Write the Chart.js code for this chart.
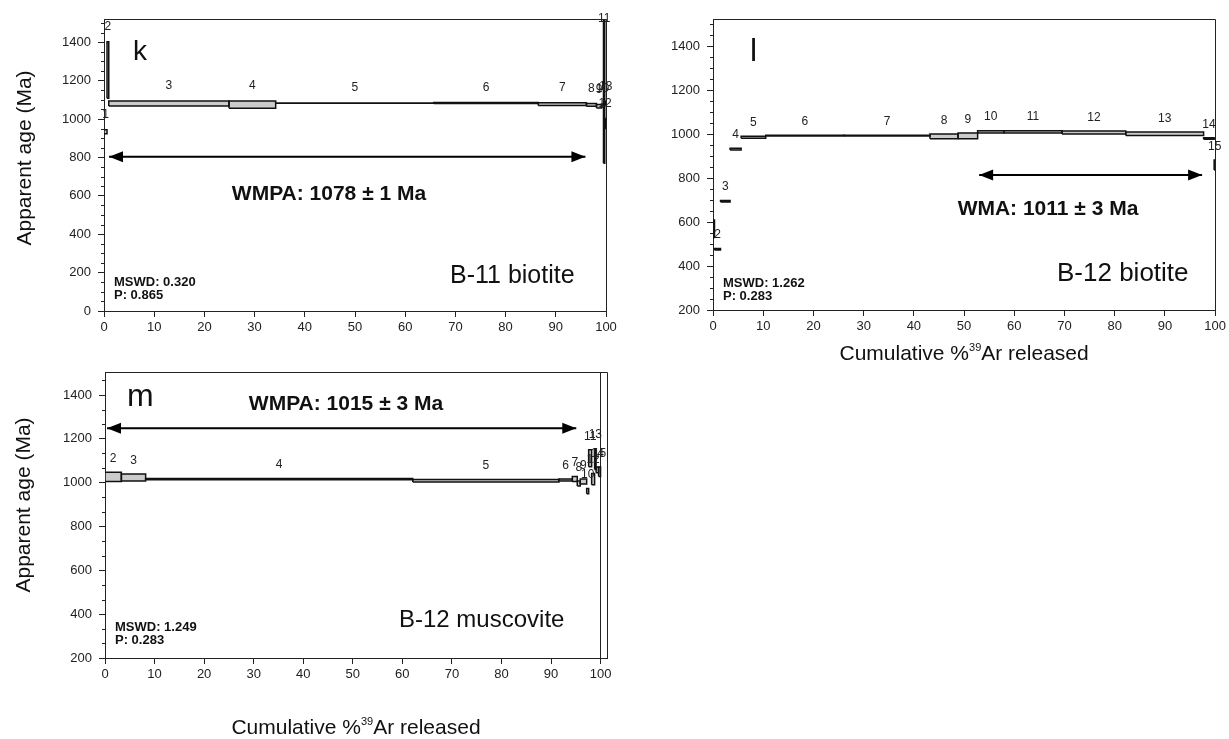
<!DOCTYPE html>
<html>
<head>
<meta charset="utf-8">
<script src="https://cdn.jsdelivr.net/npm/chart.js@4.4.0/dist/chart.umd.min.js"></script>
<style>
  html, body { margin: 0; padding: 0; background: #fff; }
  body { width: 1229px; height: 739px; position: relative; overflow: hidden; }
  canvas { position: absolute; }
</style>
</head>
<body>
<canvas id="chartK" width="640" height="345" style="left:0;top:0"></canvas>
<canvas id="chartL" width="589" height="370" style="left:640px;top:0"></canvas>
<canvas id="chartM" width="640" height="394" style="left:0;top:345px"></canvas>
<script>
// ---- shared ticks
const cumTicks = [0, 10, 20, 30, 40, 50, 60, 70, 80, 90, 100];
const kAgeTicks = [0, 200, 400, 600, 800, 1000, 1200, 1400];
const lmAgeTicks = [200, 400, 600, 800, 1000, 1200, 1400];

// ---- k: B-11 biotite (step boundaries in cumulative %39Ar, ages in Ma)
const kSteps = ['1', '2', '3', '4', '5', '6', '7', '8', '9', '10', '11', '12', '13'];
const kCum = [0, 0.6, 0.95, 24.9, 34.2, 65.7, 86.5, 96.1, 98.1, 99.1, 99.5, 99.75, 99.9, 100];
const kLow = [923, 1108, 1068, 1056, 1082, 1081, 1071, 1067, 1057, 1062, 770, 951, 1070];
const kHigh = [944, 1403, 1094, 1094, 1083, 1086, 1085, 1081, 1075, 1078, 1800, 1003, 1092];
const kPlateau = [1.0, 95.9];
const kPlateauAge = 803;

// ---- l: B-12 biotite
const lSteps = ['', '2', '3', '4', '5', '6', '7', '8', '9', '10', '11', '12', '13', '14', '15'];
const lCum = [0, 0.3, 1.5, 3.4, 5.6, 10.5, 26.1, 43.2, 48.8, 52.7, 57.9, 69.5, 82.2, 97.7, 99.8, 100];
const lLow = [530, 473, 692, 929, 982, 992, 992, 980, 980, 1006, 1006, 1001, 994, 978, 838];
const lHigh = [610, 480, 699, 936, 991, 996, 996, 1001, 1006, 1016, 1016, 1015, 1010, 984, 883];
const lPlateau = [53.0, 97.4];
const lPlateauAge = 815;

// ---- m: B-12 muscovite
const mSteps = ['2', '3', '4', '5', '6', '7', '8', '9', '10', '11', '12', '13', '14', '15'];
const mCum = [0, 3.3, 8.2, 62.1, 91.6, 94.3, 95.3, 95.9, 97.2, 97.6, 98.2, 98.8, 99.1, 99.6, 100];
const mLow = [1005, 1008, 1013, 1003, 1008, 1005, 985, 994, 949, 1073, 990, 1060, 1045, 1028];
const mHigh = [1048, 1040, 1019, 1015, 1017, 1028, 1008, 1017, 973, 1150, 1042, 1155, 1072, 1072];
const mPlateau = [0.4, 95.1];
const mPlateauAge = 1248;

const FONT = "'Liberation Sans', Arial, Helvetica, sans-serif";
const INK = '#111';
const BOX_FILL = '#cbcbcb';
const BOX_EDGE = '#111';

function stepSets(cum, low, high) {
    const sets = [];
    for (let i = 0; i < low.length; i++) {
        const x0 = cum[i], x1 = cum[i + 1];
        // grey body of the step
        sets.push({
            data: [{ x: x0, y: high[i] }, { x: x1, y: high[i] }],
            fill: { value: low[i] },
            backgroundColor: BOX_FILL,
            borderColor: 'rgba(0,0,0,0)',
            borderWidth: 0,
            pointRadius: 0,
            order: 2
        });
        // outline of the step
        sets.push({
            data: [{ x: x0, y: low[i] }, { x: x1, y: low[i] }, { x: x1, y: high[i] },
                   { x: x0, y: high[i] }, { x: x0, y: low[i] }],
            fill: false,
            borderColor: BOX_EDGE,
            borderWidth: 1.5,
            pointRadius: 0,
            order: 1
        });
    }
    return sets;
}

function drawXTitle(ctx, cx, baseline) {
    const parts = [['Cumulative %', 21, 0], ['39', 11, -9], ['Ar released', 21, 0]];
    let total = 0;
    parts.forEach(p => { ctx.font = p[1] + 'px ' + FONT; total += ctx.measureText(p[0]).width; });
    let x = cx - total / 2;
    ctx.textAlign = 'left';
    ctx.textBaseline = 'alphabetic';
    parts.forEach(p => {
        ctx.font = p[1] + 'px ' + FONT;
        ctx.fillText(p[0], x, baseline + p[2]);
        x += ctx.measureText(p[0]).width;
    });
}

function panelPlugin(p) {
    return {
        id: 'panel' + p.letter,
        afterDraw(chart) {
            const ctx = chart.ctx;
            const area = chart.chartArea;
            const xs = chart.scales.x, ys = chart.scales.y;
            ctx.save();
            ctx.strokeStyle = '#222';
            ctx.lineWidth = 1;

            // frame top + right
            ctx.beginPath();
            ctx.moveTo(area.left, Math.round(area.top) + 0.5);
            ctx.lineTo(Math.round(area.right) + 0.5, Math.round(area.top) + 0.5);
            ctx.lineTo(Math.round(area.right) + 0.5, area.bottom);
            ctx.stroke();

            // minor ticks on the age axis
            ctx.beginPath();
            for (let v = ys.min; v <= ys.max + 1e-6; v += p.minorStep) {
                const r = v / 200;
                if (Math.abs(r - Math.round(r)) < 1e-6) continue;
                const py = Math.round(ys.getPixelForValue(v)) + 0.5;
                ctx.moveTo(area.left - 3, py);
                ctx.lineTo(area.left, py);
            }
            ctx.stroke();

            // step numbers
            ctx.fillStyle = '#222';
            ctx.font = '12px ' + FONT;
            ctx.textAlign = 'center';
            ctx.textBaseline = 'middle';
            p.steps.forEach((lab, i) => {
                if (!lab) return;
                const cx = xs.getPixelForValue((p.cum[i] + p.cum[i + 1]) / 2);
                const age = Math.min(p.high[i] + p.labelGap, ys.max);
                ctx.fillText(lab, cx, ys.getPixelForValue(age));
            });

            // arrow heads on the plateau line
            chart.data.datasets.forEach((ds, i) => {
                if (!ds.plateau) return;
                const pts = chart.getDatasetMeta(i).data;
                const a = pts[0], b = pts[pts.length - 1];
                ctx.fillStyle = '#000';
                ctx.beginPath();
                ctx.moveTo(a.x, a.y);
                ctx.lineTo(a.x + 14, a.y - 5.5);
                ctx.lineTo(a.x + 14, a.y + 5.5);
                ctx.closePath();
                ctx.moveTo(b.x, b.y);
                ctx.lineTo(b.x - 14, b.y - 5.5);
                ctx.lineTo(b.x - 14, b.y + 5.5);
                ctx.closePath();
                ctx.fill();
            });

            // texts
            const t = p.text;
            ctx.fillStyle = INK;
            ctx.textBaseline = 'alphabetic';
            ctx.textAlign = 'left';
            ctx.font = t.letterSize + 'px ' + FONT;
            ctx.fillText(p.letter, t.letterX, t.letterY);
            ctx.font = t.sampleSize + 'px ' + FONT;
            ctx.fillText(p.sample, t.sampleX, t.sampleY);
            ctx.font = 'bold 13px ' + FONT;
            ctx.fillText(p.mswd, t.statX, t.statY);
            ctx.fillText(p.prob, t.statX, t.statY + 13);
            ctx.textAlign = 'center';
            ctx.font = 'bold 21px ' + FONT;
            ctx.fillText(p.ageText, t.ageX, t.ageY);

            if (t.yTitle) {
                ctx.save();
                ctx.translate(t.yTitle[0], t.yTitle[1]);
                ctx.rotate(-Math.PI / 2);
                ctx.font = '21px ' + FONT;
                ctx.textAlign = 'center';
                ctx.textBaseline = 'middle';
                ctx.fillText('Apparent age (Ma)', 0, 0);
                ctx.restore();
            }
            if (t.xTitle) {
                drawXTitle(ctx, (area.left + area.right) / 2, t.xTitle);
            }
            ctx.restore();
        }
    };
}

function makePanel(id, p) {
    const canvas = document.getElementById(id);
    const datasets = stepSets(p.cum, p.low, p.high);
    datasets.push({
        data: [{ x: p.plateau[0], y: p.plateauAge }, { x: p.plateau[1], y: p.plateauAge }],
        plateau: true,
        fill: false,
        borderColor: '#000',
        borderWidth: 2,
        pointRadius: 0,
        order: 0
    });
    const a = p.area;
    return new Chart(canvas.getContext('2d'), {
        type: 'line',
        data: { datasets },
        options: {
            responsive: false,
            animation: false,
            events: [],
            layout: { padding: { left: 0, top: a.top, right: canvas.width - a.right, bottom: 0 } },
            plugins: { legend: { display: false }, tooltip: { enabled: false } },
            scales: {
                x: {
                    type: 'linear',
                    min: 0,
                    max: p.xMax,
                    afterBuildTicks: s => { s.ticks = cumTicks.map(v => ({ value: v })); },
                    afterFit: s => { s.height = canvas.height - a.bottom; },
                    border: { color: '#222', width: 1 },
                    grid: {
                        drawOnChartArea: !!p.line100,
                        color: c => (p.line100 && c.tick && c.tick.value === 100) ? '#222' : 'rgba(0,0,0,0)',
                        tickColor: '#222',
                        tickLength: 6
                    },
                    ticks: {
                        font: { family: FONT, size: 13 }, color: '#222', padding: 3,
                        maxRotation: 0, autoSkip: false, callback: v => String(v)
                    }
                },
                y: {
                    type: 'linear',
                    min: p.yMin,
                    max: p.yMax,
                    afterBuildTicks: s => { s.ticks = p.ageTicks.map(v => ({ value: v })); },
                    afterFit: s => { s.width = a.left; },
                    border: { color: '#222', width: 1 },
                    grid: { drawOnChartArea: false, tickColor: '#222', tickLength: 6 },
                    ticks: {
                        font: { family: FONT, size: 13 }, color: '#222', padding: 7,
                        autoSkip: false, callback: v => String(v)
                    }
                }
            }
        },
        plugins: [panelPlugin(p)]
    });
}

makePanel('chartK', {
    letter: 'k', sample: 'B-11 biotite', ageText: 'WMPA: 1078 \u00b1 1 Ma',
    mswd: 'MSWD: 0.320', prob: 'P: 0.865',
    steps: kSteps, cum: kCum, low: kLow, high: kHigh,
    plateau: kPlateau, plateauAge: kPlateauAge,
    ageTicks: kAgeTicks, yMin: 0, yMax: 1521, xMax: 100, minorStep: 50, labelGap: 78,
    area: { left: 104, top: 19, right: 606, bottom: 311 },
    text: { letterSize: 28, letterX: 133, letterY: 60, sampleSize: 25, sampleX: 450, sampleY: 283,
            statX: 114, statY: 286, ageX: 329, ageY: 200, yTitle: [25, 158] }
});

makePanel('chartL', {
    letter: 'l', sample: 'B-12 biotite', ageText: 'WMA: 1011 \u00b1 3 Ma',
    mswd: 'MSWD: 1.262', prob: 'P: 0.283',
    steps: lSteps, cum: lCum, low: lLow, high: lHigh,
    plateau: lPlateau, plateauAge: lPlateauAge,
    ageTicks: lmAgeTicks, yMin: 200, yMax: 1525, xMax: 100, minorStep: 50, labelGap: 62,
    area: { left: 73, top: 19, right: 576, bottom: 310 },
    text: { letterSize: 32, letterX: 110, letterY: 61, sampleSize: 26, sampleX: 417, sampleY: 281,
            statX: 83, statY: 287, ageX: 408, ageY: 215, xTitle: 360 }
});

makePanel('chartM', {
    letter: 'm', sample: 'B-12 muscovite', ageText: 'WMPA: 1015 \u00b1 3 Ma',
    mswd: 'MSWD: 1.249', prob: 'P: 0.283',
    steps: mSteps, cum: mCum, low: mLow, high: mHigh,
    plateau: mPlateau, plateauAge: mPlateauAge,
    ageTicks: lmAgeTicks, yMin: 200, yMax: 1505, xMax: 101.3, minorStep: 200 / 3, labelGap: 62,
    line100: true,
    area: { left: 105, top: 27, right: 607, bottom: 313 },
    text: { letterSize: 32, letterX: 127, letterY: 61, sampleSize: 24, sampleX: 399, sampleY: 282,
            statX: 115, statY: 286, ageX: 346, ageY: 65, yTitle: [24, 160], xTitle: 389 }
});
</script>
</body>
</html>
